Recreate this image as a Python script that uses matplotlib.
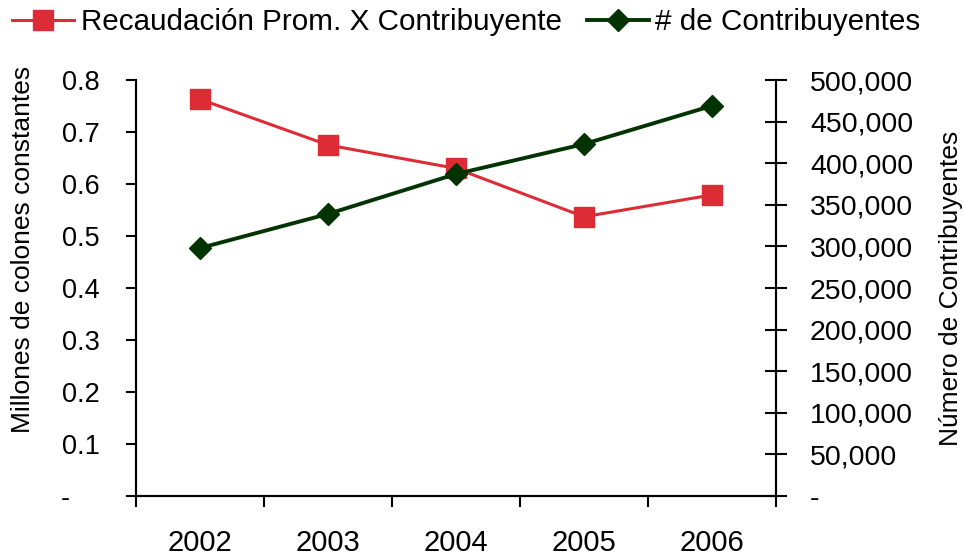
import matplotlib
matplotlib.use('Agg')
import matplotlib.pyplot as plt
from matplotlib.ticker import FuncFormatter, FixedLocator

plt.rcParams['font.family'] = ['Liberation Sans', 'DejaVu Sans']

years = ['2002', '2003', '2004', '2005', '2006']
recaudacion = [0.763, 0.675, 0.630, 0.537, 0.579]
contribuyentes = [298000, 339000, 387000, 423000, 469000]

red = '#DD2C35'
green = '#033303'

fig = plt.figure(figsize=(9.64, 5.56), dpi=100)
ax = fig.add_axes([136 / 964, 1 - 496 / 556, 640 / 964, 416 / 556])
ax2 = ax.twinx()

x = list(range(len(years)))
l1, = ax.plot(x, recaudacion, color=red, lw=2.2, marker='s', ms=14,
              label='Recaudación Prom. X Contribuyente', zorder=3)
l2, = ax2.plot(x, contribuyentes, color=green, lw=2.8, marker='D', ms=11,
               label='# de Contribuyentes', zorder=3)

ax.set_xlim(-0.5, len(years) - 0.5)
ax.set_ylim(0, 0.8)
ax2.set_ylim(0, 500000)

# category axis: ticks between categories, labels in the middle
ax.xaxis.set_major_locator(FixedLocator([i - 0.5 for i in range(len(years) + 1)]))
ax.xaxis.set_minor_locator(FixedLocator(x))
ax.set_xticklabels([])
ax.set_xticklabels(years, minor=True)
ax.tick_params(axis='x', which='major', direction='out', length=8, width=1.5)
ax.tick_params(axis='x', which='minor', length=0, pad=24, labelsize=21)

ax.set_yticks([i / 10 for i in range(9)])
ax.yaxis.set_major_formatter(FuncFormatter(lambda v, p: '-    ' if v == 0 else f'{v:.1f}'))
ax.tick_params(axis='y', direction='out', length=7.5, width=1.5, pad=18.5, labelsize=19.5)

ax2.set_yticks(range(0, 500001, 50000))
ax2.yaxis.set_major_formatter(FuncFormatter(lambda v, p: '-' if v == 0 else f'{int(v):,}'))
ax2.tick_params(axis='y', direction='inout', length=16, width=1.5, pad=16.5, labelsize=20.5)

for a in (ax, ax2):
    a.spines['top'].set_visible(False)
    for s in ('left', 'right', 'bottom'):
        a.spines[s].set_linewidth(1.5)

ax.set_ylabel('Millones de colones constantes', fontsize=19, va='center')
ax.yaxis.set_label_coords((23 - 136) / 640, (496 - 249) / 416)
ax2.set_ylabel('Número de Contribuyentes', fontsize=19, rotation=90, va='center')
ax2.yaxis.set_label_coords((951 - 136) / 640, (496 - 288) / 416)

fig.legend(handles=[l1, l2], loc='center left', bbox_to_anchor=(12 / 964, 1 - 22 / 556),
           ncol=2, frameon=False, fontsize=21.3, handlelength=2.1,
           handletextpad=0.22, columnspacing=0.85, borderaxespad=0, borderpad=0)

fig.savefig('out.png', dpi=100)
